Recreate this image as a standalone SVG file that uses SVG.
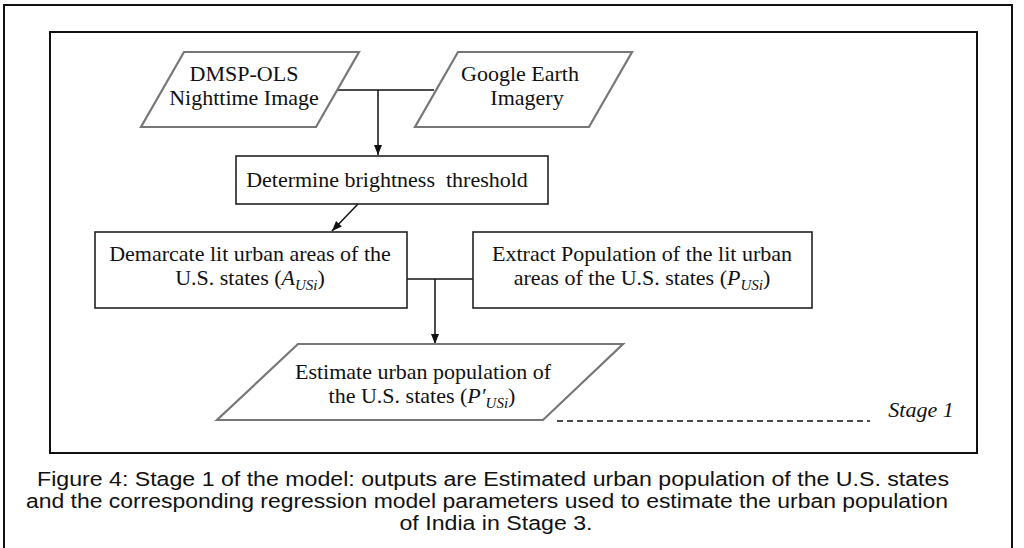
<svg xmlns="http://www.w3.org/2000/svg" width="1024" height="548" viewBox="0 0 1024 548">
  <defs>
    <marker id="arrow" viewBox="0 0 10 10" refX="10" refY="5" markerWidth="10" markerHeight="10" markerUnits="userSpaceOnUse" orient="auto">
      <path d="M0,1 L10,5 L0,9 Z" fill="#111"/>
    </marker>
    <style>
      .frame { fill: none; stroke: #111; stroke-width: 2; }
      .box { fill: #fff; stroke: #222; stroke-width: 1.6; }
      .data { fill: #fff; stroke: #777; stroke-width: 2.2; stroke-linejoin: miter; }
      .lbl { font-family: "Liberation Serif", "Times New Roman", serif; font-size: 22px; fill: #111; text-anchor: middle; }
      .it { font-style: italic; }
      .sub { font-style: italic; font-size: 15px; }
      .wire { fill: none; stroke: #111; stroke-width: 1.5; }
      .cap { font-family: "Liberation Sans", Arial, sans-serif; font-size: 20px; fill: #111; text-anchor: middle; }
    </style>
  </defs>
  <rect width="1024" height="548" fill="#fff"/>

  <!-- page frame and figure frame -->
  <rect class="frame" x="4" y="5" width="1008" height="545"/>
  <rect class="frame" x="50" y="32" width="927" height="421"/>

  <!-- connectors -->
  <g id="connectors">
    <path class="wire" d="M338,90 H434"/>
    <path class="wire" d="M378,90 V155" marker-end="url(#arrow)"/>
    <path class="wire" d="M358,204 L332,231" marker-end="url(#arrow)"/>
    <path class="wire" d="M407,279 H473"/>
    <path class="wire" d="M435,279 V344" marker-end="url(#arrow)"/>
    <path class="wire" d="M557,421 H870" stroke-dasharray="6,4"/>
  </g>

  <g id="dmsp">
    <polygon class="data" points="184,52 359,52 316,127 141,127"/>
    <text class="lbl" x="244" y="81">DMSP-OLS</text>
    <text class="lbl" x="244" y="105">Nighttime Image</text>
  </g>

  <g id="google">
    <polygon class="data" points="458,52 632,52 589,127 415,127"/>
    <text class="lbl" x="520" y="81">Google Earth</text>
    <text class="lbl" x="527" y="105">Imagery</text>
  </g>

  <g id="threshold">
    <rect class="box" x="236" y="156" width="312" height="48"/>
    <text class="lbl" x="387" y="187" xml:space="preserve">Determine brightness  threshold</text>
  </g>

  <g id="demarcate">
    <rect class="box" x="95" y="232" width="312" height="76"/>
    <text class="lbl" x="250" y="261">Demarcate lit urban areas of the</text>
    <text class="lbl" x="250" y="285">U.S. states (<tspan class="it">A</tspan><tspan class="sub" dy="5">USi</tspan><tspan dy="-5">)</tspan></text>
  </g>

  <g id="extract">
    <rect class="box" x="473" y="232" width="339" height="76"/>
    <text class="lbl" x="642" y="261">Extract Population of the lit urban</text>
    <text class="lbl" x="642" y="285">areas of the U.S. states (<tspan class="it">P</tspan><tspan class="sub" dy="5">USi</tspan><tspan dy="-5">)</tspan></text>
  </g>

  <g id="estimate">
    <polygon class="data" points="298,344 623,344 543,420 217,420"/>
    <text class="lbl" x="423" y="379">Estimate urban population of</text>
    <text class="lbl" x="422" y="403">the U.S. states (<tspan class="it">P′</tspan><tspan class="sub" dy="5">USi</tspan><tspan dy="-5">)</tspan></text>
  </g>

  <g id="stage">
    <text class="lbl it" x="921" y="417">Stage 1</text>
  </g>

  <g id="caption">
    <text class="cap" x="493" y="486" textLength="912" lengthAdjust="spacingAndGlyphs">Figure 4: Stage 1 of the model: outputs are Estimated urban population of the U.S. states</text>
    <text class="cap" x="487" y="508" textLength="922" lengthAdjust="spacingAndGlyphs">and the corresponding regression model parameters used to estimate the urban population</text>
    <text class="cap" x="496" y="530" textLength="193" lengthAdjust="spacingAndGlyphs">of India in Stage 3.</text>
  </g>
</svg>
